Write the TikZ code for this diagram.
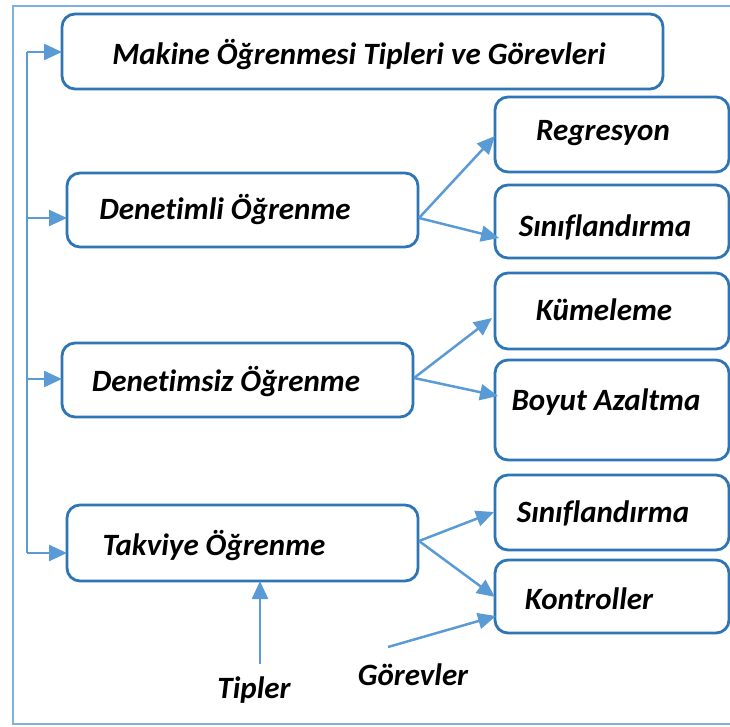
\documentclass[tikz,border=0pt]{standalone}
\usepackage{fontspec}
\setmainfont{Carlito}[RawFeature=-liga]
\usetikzlibrary{arrows.meta}
\definecolor{boxblue}{HTML}{2E75B6}
\definecolor{arrowblue}{HTML}{5B9BD5}
\definecolor{frameblue}{HTML}{7EB1DF}
\tikzset{
  card/.style={draw=boxblue, line width=2.8pt, rounded corners=13pt},
  lbl/.style={font=\fontsize{31}{33}\selectfont\bfseries\itshape, text=black, inner sep=0pt},
  link/.style={draw=arrowblue, line width=2.5pt, -{Triangle[length=18pt,width=16pt]}}
}
\begin{document}
\begin{tikzpicture}[x=1pt,y=-1pt]
\useasboundingbox (0,0) rectangle (730,727);
% outer frame (open on the right)
\draw[frameblue, line width=2.6pt] (740,6) -- (13,6) -- (13,724) -- (740,724);

% boxes
\draw[card] (62,14) rectangle (663,89);
\draw[card] (67,173) rectangle (418,247);
\draw[card] (62,343) rectangle (413,417);
\draw[card] (67,505) rectangle (418,581);
\draw[card] (495,97) rectangle (729,172);
\draw[card] (495,185) rectangle (729,258);
\draw[card] (495,273) rectangle (729,349);
\draw[card] (495,360) rectangle (729,460);
\draw[card] (495,475) rectangle (729,550);
\draw[card] (495,560) rectangle (729,633);

% anchors of the boxes
\coordinate (title) at (62,52);
\coordinate (sup) at (67,218);
\coordinate (unsup) at (62,379);
\coordinate (rein) at (67,553);
\coordinate (supR) at (419,218);
\coordinate (unsupR) at (414,378);
\coordinate (reinR) at (419,541);
\coordinate (reg) at (495,136);
\coordinate (cls) at (499,238);
\coordinate (clu) at (492,318);
\coordinate (dim) at (498,396);
\coordinate (cls2) at (494,512);
\coordinate (ctl) at (495,597);
\coordinate (ctl2) at (496,616);
\coordinate (reinB) at (260,581);
\coordinate (tipS) at (260,664);
\coordinate (gorS) at (388,647);
\coordinate (spine) at (27,52);
\coordinate (spineEnd) at (27,553);

% texts
\node[lbl] (t0) at (359,55) {Makine Öğrenmesi Tipleri ve Görevleri};
\node[lbl] (t1) at (225,210) {Denetimli Öğrenme};
\node[lbl] (t2) at (226,381) {Denetimsiz Öğrenme};
\node[lbl] (t3) at (214,545) {Takviye Öğrenme};
\node[lbl] (r1) at (603,133) {Regresyon};
\node[lbl] (r2) at (605,227) {Sınıflandırma};
\node[lbl] (r3) at (604,310) {Kümeleme};
\node[lbl] (r4) at (606,402) {Boyut Azaltma};
\node[lbl] (r5) at (603,513) {Sınıflandırma};
\node[lbl] (r6) at (589,599) {Kontroller};
\node[lbl] (tip) at (254,690) {Tipler};
\node[lbl] (gor) at (413,675) {Görevler};

% spine on the left
\draw[arrowblue, line width=2.5pt] (spineEnd) -- (spine);
\draw[link] (spine) -- (title);
\draw[link] (27,218) -- (sup);
\draw[link] (27,379) -- (unsup);
\draw[link] (spineEnd) -- (rein);

% branches
\draw[link] (supR) -- (reg);
\draw[link] (supR) -- (cls);
\draw[link] (unsupR) -- (clu);
\draw[link] (unsupR) -- (dim);
\draw[link] (reinR) -- (cls2);
\draw[link] (reinR) -- (ctl);
\draw[link] (gorS) -- (ctl2);
\draw[link] (tipS) -- (reinB);
\end{tikzpicture}
\end{document}
